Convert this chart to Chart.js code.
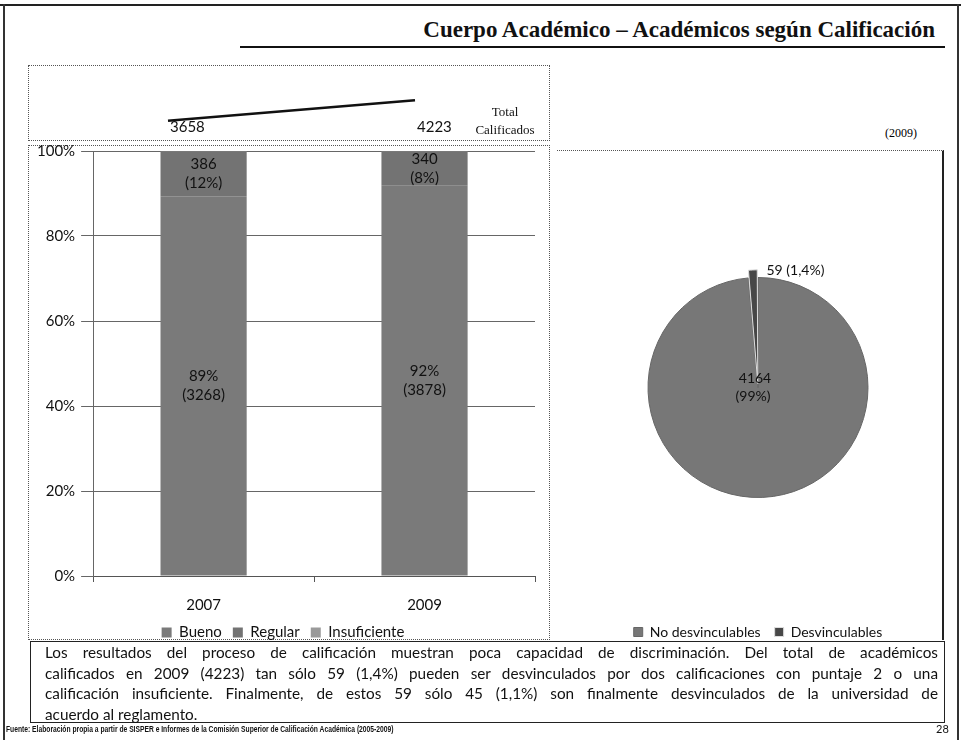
<!DOCTYPE html>
<html>
<head>
<meta charset="utf-8">
<script src="https://cdn.jsdelivr.net/npm/chart.js@4.4.0/dist/chart.umd.min.js"></script>
<style>
  body { margin: 0; background: #fff; }
  #page { position: relative; width: 961px; height: 740px; overflow: hidden; font-family: Lato, "Open Sans", sans-serif; color: #111; }
  .abs { position: absolute; }
  .dotted { border: 1px dotted #555; box-sizing: border-box; }
  .serif { font-family: "Liberation Serif", "DejaVu Serif", serif; color: #111; }
  #note { left: 30px; top: 641px; width: 915px; height: 82px; border: 1px solid #222; box-sizing: border-box; padding: 0 6px 0 14px; font-size: 15.3px; line-height: 20.7px; }
  #note div { text-align: justify; text-align-last: justify; white-space: nowrap; }
  #note div.last { text-align-last: left; }
</style>
</head>
<body>
<div id="page">
  <div class="abs" style="left:0;top:4px;width:961px;height:2px;background:#222"></div>
  <div class="abs" style="left:3px;top:4px;width:2px;height:736px;background:#333"></div>
  <div class="abs" style="left:957px;top:4px;width:2px;height:736px;background:#333"></div>

  <div class="abs serif" style="right:26px;top:17px;font-size:23px;font-weight:bold;white-space:nowrap">Cuerpo Académico – Académicos según Calificación</div>
  <div class="abs" style="left:240px;top:46px;width:705px;height:2px;background:#111"></div>

  <div class="abs dotted" style="left:28px;top:65px;width:522px;height:76px"></div>
  <div class="abs" style="left:28px;top:65px;width:522px;height:76px"><canvas id="totalChart"></canvas></div>
  <div class="abs serif" style="left:470px;top:103px;width:70px;text-align:center;font-size:13px;line-height:18px">Total<br>Calificados</div>

  <div class="abs serif" style="left:885px;top:126px;font-size:12px;color:#000">(2009)</div>

  <div class="abs dotted" style="left:28px;top:145px;width:522px;height:495px"></div>
  <div class="abs" style="left:28px;top:136px;width:522px;height:514px"><canvas id="barChart"></canvas></div>

  <div class="abs" style="left:557px;top:150px;width:387px;height:490px;border-top:1px dotted #555;border-right:2px solid #222;box-sizing:border-box"></div>
  <div class="abs" style="left:557px;top:150px;width:386px;height:499px"><canvas id="pieChart"></canvas></div>

  <div class="abs" id="note">
    <div>Los resultados del proceso de calificación muestran poca capacidad de discriminación. Del total de académicos</div>
    <div>calificados en 2009 (4223) tan sólo 59 (1,4%) pueden ser desvinculados por dos calificaciones con puntaje 2 o una</div>
    <div>calificación insuficiente. Finalmente, de estos 59 sólo 45 (1,1%) son finalmente desvinculados de la universidad de</div>
    <div class="last">acuerdo al reglamento.</div>
  </div>

  <div class="abs" style="left:6px;top:724px;font-family:'Liberation Sans',sans-serif;font-size:8.5px;font-weight:bold;white-space:nowrap;transform:scaleX(0.79);transform-origin:left top">Fuente: Elaboración propia a partir de SISPER e Informes de la Comisión Superior de Calificación Académica (2005-2009)</div>
  <div class="abs" style="left:936px;top:722px;font-size:11px">28</div>
</div>

<script>
const years = ["2007", "2009"];
const totals = [3658, 4223];
const bueno = [3268, 3878];
const regular = [386, 340];
const insuficiente = [4, 5];
const buenoPct = ["89%", "92%"];
const regularPct = ["12%", "8%"];
const yTicks = ["0%", "20%", "40%", "60%", "80%", "100%"];

const pieLabels = ["No desvinculables", "Desvinculables"];
const pieValues = [4164, 59];
const piePct = ["99%", "1,4%"];

const labelFont = "15px Lato";

function share(arr) {
  return arr.map((v, i) => (v / totals[i]) * 100);
}

// top strip: total calificados
const totalLabels = {
  id: "totalLabels",
  afterDatasetsDraw(chart) {
    const ctx = chart.ctx;
    ctx.save();
    ctx.font = "15px Lato";
    ctx.fillStyle = "#111";
    ctx.textAlign = "left";
    ctx.textBaseline = "middle";
    chart.getDatasetMeta(0).data.forEach((pt, i) => {
      ctx.fillText(String(totals[i]), pt.x + 2, 62);
    });
    ctx.restore();
  }
};

new Chart(document.getElementById("totalChart"), {
  type: "line",
  data: {
    labels: years,
    datasets: [{ data: totals, borderColor: "#111", borderWidth: 2.5, pointRadius: 0, tension: 0 }]
  },
  options: {
    responsive: true,
    maintainAspectRatio: false,
    animation: false,
    layout: { padding: { left: 140, right: 135, top: 0, bottom: 0 } },
    scales: {
      x: { display: false },
      y: { display: false, min: 3100, max: 5200 }
    },
    plugins: { legend: { display: false }, tooltip: { enabled: false } }
  },
  plugins: [totalLabels]
});

// stacked bars
const barLabels = {
  id: "barLabels",
  afterDatasetsDraw(chart) {
    const ctx = chart.ctx;
    ctx.save();
    ctx.font = labelFont;
    ctx.fillStyle = "#111";
    ctx.textAlign = "center";
    ctx.textBaseline = "middle";
    const texts = [
      (i) => [buenoPct[i], "(" + bueno[i] + ")"],
      (i) => [String(regular[i]), "(" + regularPct[i] + ")"]
    ];
    texts.forEach((fn, di) => {
      chart.getDatasetMeta(di).data.forEach((bar, i) => {
        const cy = (bar.y + bar.base) / 2;
        fn(i).forEach((t, k) => ctx.fillText(t, bar.x, cy + (k - 0.5) * 19));
      });
    });
    ctx.restore();
  }
};

new Chart(document.getElementById("barChart"), {
  type: "bar",
  data: {
    labels: years,
    datasets: [
      { label: "Bueno", data: share(bueno), backgroundColor: "#7a7a7a" },
      { label: "Regular", data: share(regular), backgroundColor: "#737373" },
      { label: "Insuficiente", data: share(insuficiente), backgroundColor: "#9a9a9a" }
    ]
  },
  options: {
    responsive: true,
    maintainAspectRatio: false,
    animation: false,
    layout: { padding: { left: 3, right: 15, top: 0, bottom: 0 } },
    datasets: { bar: { categoryPercentage: 0.78, barPercentage: 0.5 } },
    scales: {
      x: {
        stacked: true,
        grid: { offset: true, drawOnChartArea: false, tickLength: 20, tickBorderDash: [5, 100], color: "#555" },
        border: { color: "#555" },
        ticks: { color: "#111", font: { family: "Lato", size: 15 }, padding: 0 }
      },
      y: {
        stacked: true,
        min: 0,
        max: 100,
        grid: { color: "#666", tickLength: 12, lineWidth: 1, borderDash: [3, 2] },
        border: { color: "#666" },
        ticks: {
          stepSize: 20,
          color: "#111",
          font: { family: "Lato", size: 15 },
          padding: 6,
          callback: (v) => yTicks[v / 20]
        }
      }
    },
    plugins: {
      legend: {
        position: "bottom",
        labels: { color: "#111", font: { family: "Lato", size: 15 }, boxWidth: 10, boxHeight: 10, padding: 11 }
      },
      tooltip: { enabled: false }
    }
  },
  plugins: [barLabels]
});

// pie
const pieText = {
  id: "pieText",
  afterDatasetsDraw(chart) {
    const ctx = chart.ctx;
    const arcs = chart.getDatasetMeta(0).data;
    ctx.save();
    ctx.font = "14px Lato";
    ctx.fillStyle = "#111";
    ctx.textBaseline = "middle";
    const big = arcs[0];
    ctx.textAlign = "center";
    ctx.fillText(String(pieValues[0]), big.x - 3, big.y - 9);
    ctx.fillText("(" + piePct[0] + ")", big.x - 5, big.y + 9);
    const small = arcs[1];
    const mid = (small.startAngle + small.endAngle) / 2;
    const r = small.outerRadius + 16;
    const tx = small.x + Math.cos(mid) * r;
    const ty = small.y + Math.sin(mid) * r;
    ctx.textAlign = "left";
    ctx.fillText(pieValues[1] + " (" + piePct[1] + ")", tx + 14, ty + 9);
    ctx.restore();
  }
};

new Chart(document.getElementById("pieChart"), {
  type: "pie",
  data: {
    labels: pieLabels,
    datasets: [{
      data: pieValues,
      backgroundColor: ["#777777", "#474747"],
      borderColor: ["#666", "#ddd"],
      borderWidth: 1,
      offset: [0, 16]
    }]
  },
  options: {
    responsive: true,
    maintainAspectRatio: false,
    animation: false,
    rotation: 0,
    radius: 110,
    layout: { padding: { left: 16, right: 0, top: 14, bottom: 0 } },
    plugins: {
      legend: {
        position: "bottom",
        labels: { color: "#111", font: { family: "Lato", size: 14 }, boxWidth: 9, boxHeight: 9, padding: 14 }
      },
      tooltip: { enabled: false }
    }
  },
  plugins: [pieText]
});
</script>
</body>
</html>
